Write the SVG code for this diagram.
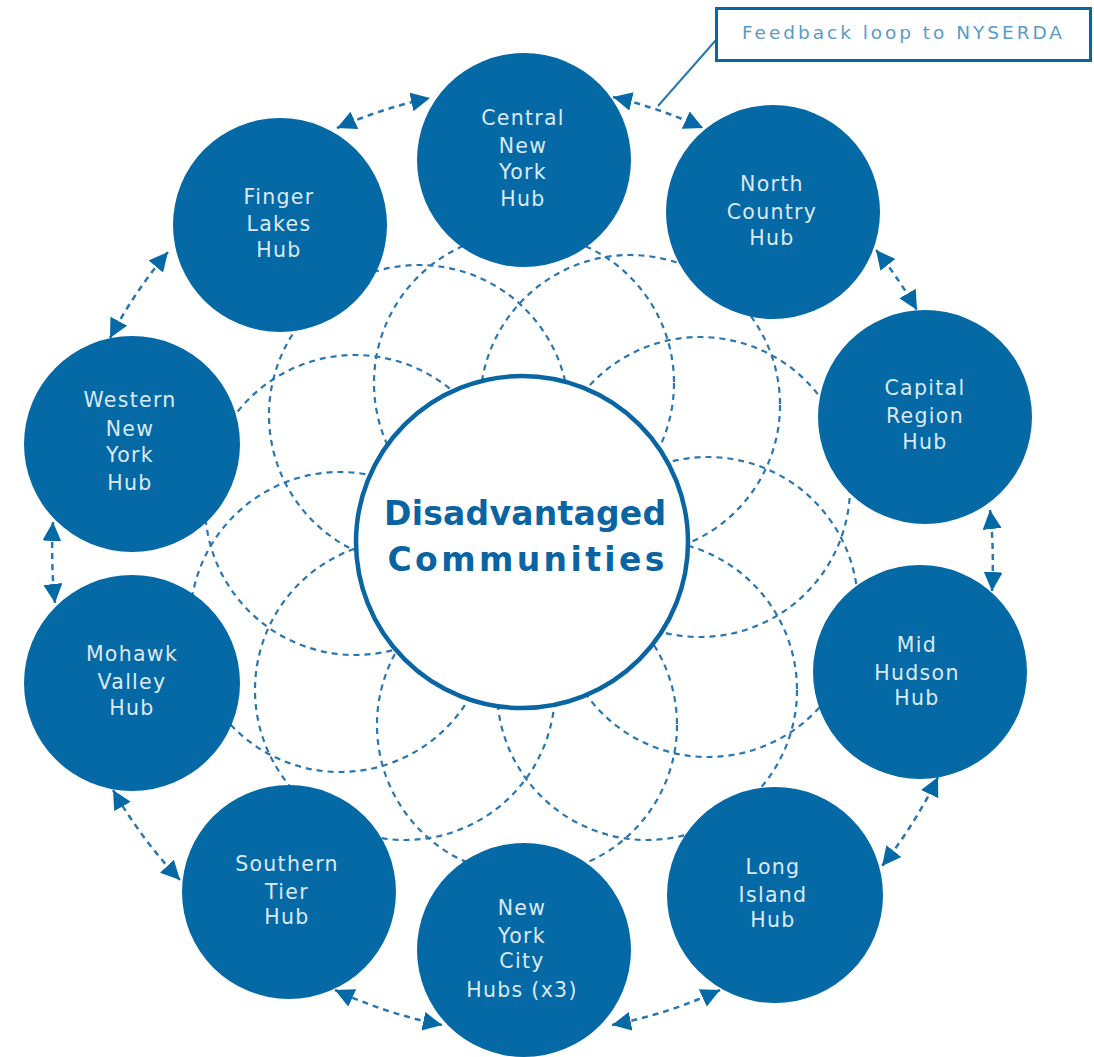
<svg xmlns="http://www.w3.org/2000/svg" width="1094" height="1057" viewBox="0 0 1094 1057">
<defs>
<style>
.bg{fill:none;stroke:#2a76b0;stroke-width:2.2;stroke-dasharray:6 5}
.con{fill:none;stroke:#2a76b0;stroke-width:2.5;stroke-dasharray:6 5;marker-start:url(#ah);marker-end:url(#ah)}
.hub{fill:#0569a6}
.lbl{font-family:"DejaVu Sans",sans-serif;font-size:20.5px;letter-spacing:1.3px;fill:#dbe9f4;text-anchor:middle}
.ctr{font-family:"DejaVu Sans",sans-serif;font-weight:bold;font-size:33px;fill:#0a64a1;text-anchor:middle}
</style>
<marker id="ah" viewBox="0 0 10 10" refX="10" refY="5" markerWidth="19" markerHeight="19" markerUnits="userSpaceOnUse" orient="auto-start-reverse">
<path d="M0,0 L10,5 L0,10 z" fill="#0569a6"/>
</marker>
</defs>
<rect width="1094" height="1057" fill="#ffffff"/>
<g id="pattern">
<circle class="bg" cx="524" cy="383" r="150"/>
<circle class="bg" cx="630" cy="405" r="150"/>
<circle class="bg" cx="700" cy="487" r="150"/>
<circle class="bg" cx="708" cy="607" r="150"/>
<circle class="bg" cx="647" cy="690" r="150"/>
<circle class="bg" cx="527" cy="725" r="150"/>
<circle class="bg" cx="405" cy="690" r="150"/>
<circle class="bg" cx="340" cy="622" r="150"/>
<circle class="bg" cx="355" cy="505" r="150"/>
<circle class="bg" cx="419" cy="415" r="150"/>
</g>
<g id="connectors">
<path class="con" d="M337,128 A480,480 0 0 1 430,98"/>
<path class="con" d="M613,97 A480,480 0 0 1 703,128"/>
<path class="con" d="M876,250 A480,480 0 0 1 917,310"/>
<path class="con" d="M990,510 A480,480 0 0 1 992,591"/>
<path class="con" d="M938,777 A480,480 0 0 1 882,866"/>
<path class="con" d="M720,990 A480,480 0 0 1 612,1025"/>
<path class="con" d="M442,1025 A480,480 0 0 1 335,990"/>
<path class="con" d="M180,880 A480,480 0 0 1 113,790"/>
<path class="con" d="M55,603 A480,480 0 0 1 53,522"/>
<path class="con" d="M110,338 A480,480 0 0 1 168,252"/>
<line x1="716" y1="40" x2="658" y2="106" stroke="#2a76b0" stroke-width="2"/>
</g>
<g id="center">
<circle cx="522" cy="542" r="166" fill="#ffffff" stroke="#0a66a3" stroke-width="4.5"/>
<text class="ctr" x="525" y="525" textLength="282">Disadvantaged</text>
<text class="ctr" x="526" y="571" textLength="277">Communities</text>
</g>
<g id="hub-cny">
<circle class="hub" cx="524" cy="160" r="107"/>
<text class="lbl" x="523" y="125">Central</text>
<text class="lbl" x="523" y="153">New</text>
<text class="lbl" x="523" y="179">York</text>
<text class="lbl" x="523" y="206">Hub</text>
</g>
<g id="hub-nc">
<circle class="hub" cx="773" cy="212" r="107"/>
<text class="lbl" x="772" y="191">North</text>
<text class="lbl" x="772" y="219">Country</text>
<text class="lbl" x="772" y="245">Hub</text>
</g>
<g id="hub-cr">
<circle class="hub" cx="925" cy="417" r="107"/>
<text class="lbl" x="925" y="395">Capital</text>
<text class="lbl" x="925" y="423">Region</text>
<text class="lbl" x="925" y="449">Hub</text>
</g>
<g id="hub-mh">
<circle class="hub" cx="920" cy="672" r="107"/>
<text class="lbl" x="917" y="652">Mid</text>
<text class="lbl" x="917" y="680">Hudson</text>
<text class="lbl" x="917" y="705">Hub</text>
</g>
<g id="hub-li">
<circle class="hub" cx="775" cy="895" r="108"/>
<text class="lbl" x="773" y="874">Long</text>
<text class="lbl" x="773" y="902">Island</text>
<text class="lbl" x="773" y="927">Hub</text>
</g>
<g id="hub-nyc">
<circle class="hub" cx="524" cy="950" r="107"/>
<text class="lbl" x="522" y="915">New</text>
<text class="lbl" x="522" y="943">York</text>
<text class="lbl" x="522" y="968">City</text>
<text class="lbl" x="522" y="997">Hubs (x3)</text>
</g>
<g id="hub-st">
<circle class="hub" cx="289" cy="892" r="107"/>
<text class="lbl" x="287" y="871">Southern</text>
<text class="lbl" x="287" y="899">Tier</text>
<text class="lbl" x="287" y="924">Hub</text>
</g>
<g id="hub-mv">
<circle class="hub" cx="132" cy="683" r="108"/>
<text class="lbl" x="132" y="661">Mohawk</text>
<text class="lbl" x="132" y="689">Valley</text>
<text class="lbl" x="132" y="715">Hub</text>
</g>
<g id="hub-wny">
<circle class="hub" cx="132" cy="444" r="108"/>
<text class="lbl" x="130" y="407">Western</text>
<text class="lbl" x="130" y="436">New</text>
<text class="lbl" x="130" y="462">York</text>
<text class="lbl" x="130" y="490">Hub</text>
</g>
<g id="hub-fl">
<circle class="hub" cx="280" cy="225" r="107"/>
<text class="lbl" x="279" y="204">Finger</text>
<text class="lbl" x="279" y="231">Lakes</text>
<text class="lbl" x="279" y="257">Hub</text>
</g>
<g id="feedback">
<rect x="716.5" y="8.5" width="374" height="52" fill="#ffffff" stroke="#0a66a3" stroke-width="3"/>
<text x="902" y="39" font-family="DejaVu Sans, sans-serif" font-size="18.5" fill="#5a9ac7" text-anchor="middle" textLength="320">Feedback loop to NYSERDA</text>
</g>
</svg>
